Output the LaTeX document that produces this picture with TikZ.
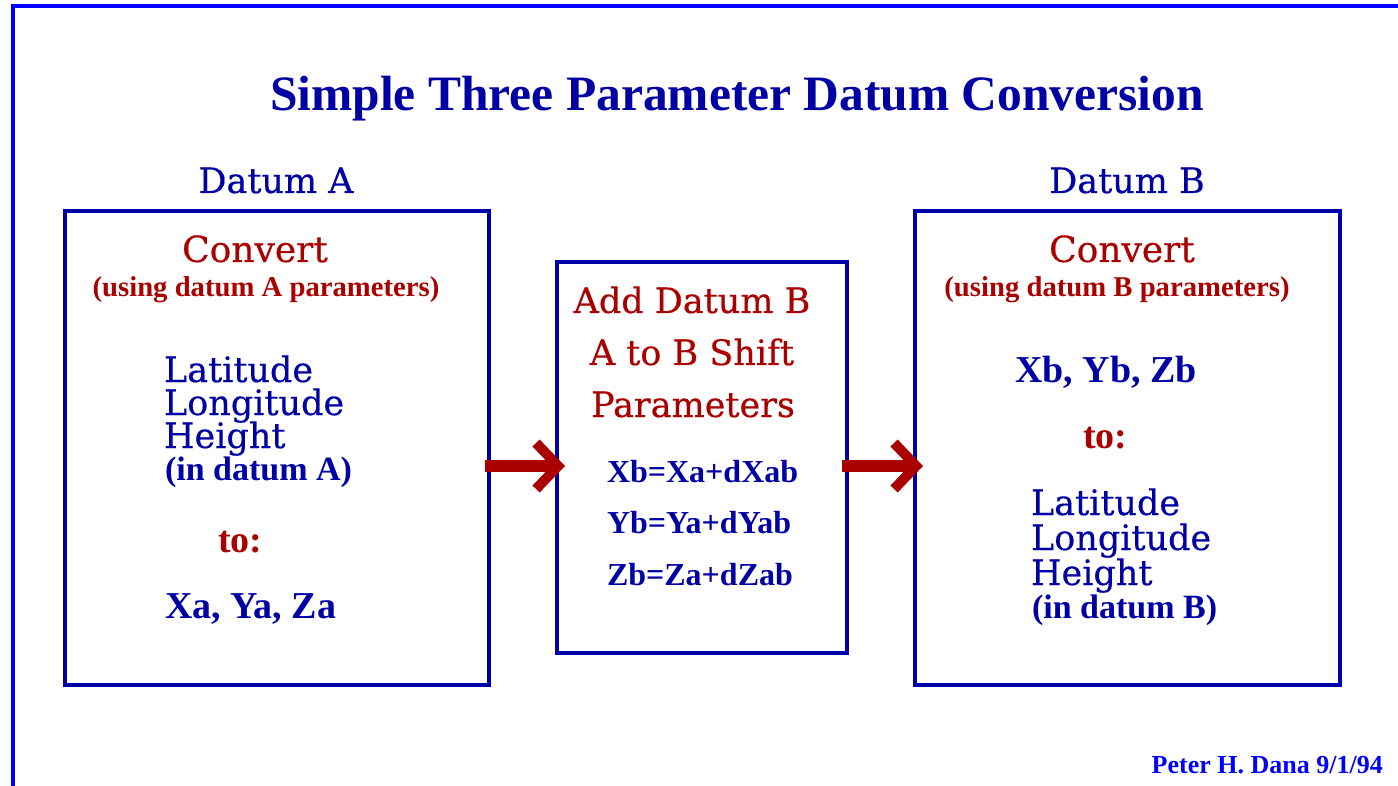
\documentclass[tikz,border=0pt]{standalone}
\usepackage{fontspec}
\setmainfont{DejaVu Serif}[FakeBold=0.4]
\newfontfamily\libser{Liberation Serif}
\usetikzlibrary{arrows.meta}
\definecolor{frameblue}{RGB}{0,0,255}
\definecolor{boxblue}{RGB}{0,0,170}
\definecolor{txtblue}{RGB}{0,0,165}
\definecolor{txtred}{RGB}{170,0,0}
\newcommand{\fsz}[1]{\fontsize{#1}{#1}\selectfont}
\begin{document}
\begin{tikzpicture}[x=1pt,y=-1pt,
  box/.style={draw=boxblue, line width=4pt, inner sep=0pt, outer sep=0pt},
  lbl/.style={inner sep=0pt, outer sep=0pt, anchor=base},
  lblw/.style={inner sep=0pt, outer sep=0pt, anchor=base west},
  blue reg/.style={text=txtblue, font=\fsz{35}},
  red reg/.style={text=txtred, font=\fsz{35}},
  red bold/.style={text=txtred, font=\libser\bfseries\fsz{28.7}},
  blue bold/.style={text=txtblue, font=\libser\bfseries\fsz{38}},
  paren/.style={text=txtblue, font=\libser\bfseries\fsz{34}},
  eq/.style={text=txtblue, font=\libser\bfseries\fsz{32}},
  toword/.style={text=txtred, font=\libser\bfseries\fsz{38}},
  arr/.style={draw=txtred, line width=12pt,
    -{Straight Barb[length=22pt, width=46pt, line width=10pt]}}
]
\useasboundingbox (0,0) rectangle (1398,786);
\fill[white] (0,0) rectangle (1398,786);
% outer frame
\draw[frameblue, line width=4pt] (12.5,786) -- (12.5,6.5) -- (1398,6.5);

% title
\node[lbl, text=txtblue, font=\libser\bfseries\fsz{49.5}] (title) at (737,111)
  {Simple Three Parameter Datum Conversion};

% boxes
\node[box, minimum width=424pt, minimum height=474pt] (A) at (277,448) {};
\node[box, minimum width=290pt, minimum height=391pt] (M) at (702,457.5) {};
\node[box, minimum width=425pt, minimum height=474pt] (B) at (1127.5,448) {};

% box A texts
\node[lbl, blue reg] (dA) at (276,193) {Datum A};
\node[lbl, red reg, font=\fsz{36}] (convA) at (255,262) {Convert};
\node[lbl, red bold] (useA) at (266,297) {(using datum A parameters)};
\node[lblw, blue reg] (latA) at (164,382) {Latitude};
\node[lblw, blue reg] (lonA) at (164,415) {Longitude};
\node[lblw, blue reg] (hgtA) at (164,448) {Height};
\node[lblw, paren] (inA) at (165,480) {(in datum A)};
\node[lblw, toword] (toA) at (218,552) {to:};
\node[lblw, blue bold] (xyzA) at (165,618) {Xa, Ya, Za};

% middle box texts
\node[lbl, red reg] (add) at (692,313) {Add Datum B};
\node[lbl, red reg] (shift) at (692,365) {A to B Shift};
\node[lbl, red reg] (par) at (693,417) {Parameters};
\node[lblw, eq] (eqx) at (607,482) {Xb=Xa+dXab};
\node[lblw, eq] (eqy) at (607,533) {Yb=Ya+dYab};
\node[lblw, eq] (eqz) at (607,585) {Zb=Za+dZab};

% box B texts
\node[lbl, blue reg] (dB) at (1127,193) {Datum B};
\node[lbl, red reg, font=\fsz{36}] (convB) at (1122,262) {Convert};
\node[lbl, red bold] (useB) at (1117,297) {(using datum B parameters)};
\node[lblw, blue bold] (xyzB) at (1015,382) {Xb, Yb, Zb};
\node[lblw, toword] (toB) at (1083,448) {to:};
\node[lblw, blue reg] (latB) at (1031,515) {Latitude};
\node[lblw, blue reg] (lonB) at (1031,550) {Longitude};
\node[lblw, blue reg] (hgtB) at (1031,585) {Height};
\node[lblw, paren] (inB) at (1032,618) {(in datum B)};

% arrows
\draw[arr] ([shift={(-4,18)}]A.east) -- ([shift={(8,8.5)}]M.west);
\draw[arr] ([shift={(-5,8.5)}]M.east) -- ([shift={(8,18)}]B.west);

% footer
\node[inner sep=0pt, anchor=base east, text=frameblue, font=\libser\bfseries\fsz{26}] (credit)
  at (1383,773) {Peter H. Dana 9/1/94};
\end{tikzpicture}
\end{document}
